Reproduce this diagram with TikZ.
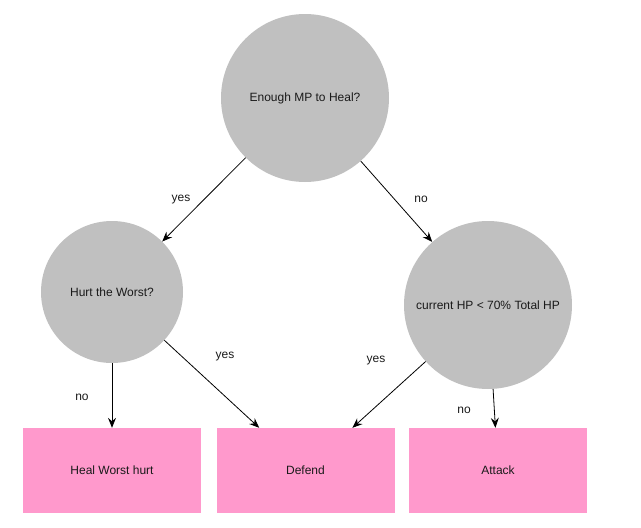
\documentclass[tikz,border=0pt]{standalone}
\usepackage{fontspec}
\setmainfont{Liberation Sans}
\usetikzlibrary{arrows.meta}

\definecolor{decgray}{HTML}{C0C0C0}
\definecolor{actpink}{HTML}{FF99CC}
\definecolor{txt}{HTML}{1A1A1A}

\begin{document}
\begin{tikzpicture}[x=1pt, y=-1pt,
  every node/.style={font=\fontsize{12}{14}\selectfont, text=txt},
  decision/.style={circle, fill=decgray, inner sep=0pt},
  action/.style={rectangle, fill=actpink, minimum width=178pt, minimum height=85pt},
  lbl/.style={inner sep=0pt},
  edge/.style={-{Stealth[length=10pt, width=8pt, inset=3.5pt]}, line width=0.8pt, black}]

\useasboundingbox (0, 0) rectangle (641, 528);

% Decisions
\node[decision, minimum size=168pt] (mp) at (305, 98) {Enough MP to Heal?};
\node[decision, minimum size=142pt] (hurt) at (112, 292) {Hurt the Worst?};
\node[decision, minimum size=168pt] (hp) at (488, 305) {current HP < 70\% Total HP};

% Actions
\node[action] (heal) at (112, 470.5) {Heal Worst hurt};
\node[action] (defend) at (305.5, 470.5) {Defend};
\node[action] (attack) at (498, 470.5) {Attack};

% Edges
\draw[edge] (mp) -- (hurt);
\draw[edge] (mp) -- (hp);
\draw[edge] (hurt) -- (heal);
\draw[edge] (hurt) -- (defend);
\draw[edge] (hp) -- (defend);
\draw[edge] (hp) -- (attack);

% Labels
\node[lbl] (yesmp) at (181, 200) {yes};
\node[lbl] (nomp) at (421, 199) {no};
\node[lbl] (nohurt) at (82, 397) {no};
\node[lbl] (yeshurt) at (225, 357) {yes};
\node[lbl] (yeshp) at (376, 361) {yes};
\node[lbl] (nohp) at (464, 410) {no};

\end{tikzpicture}
\end{document}
